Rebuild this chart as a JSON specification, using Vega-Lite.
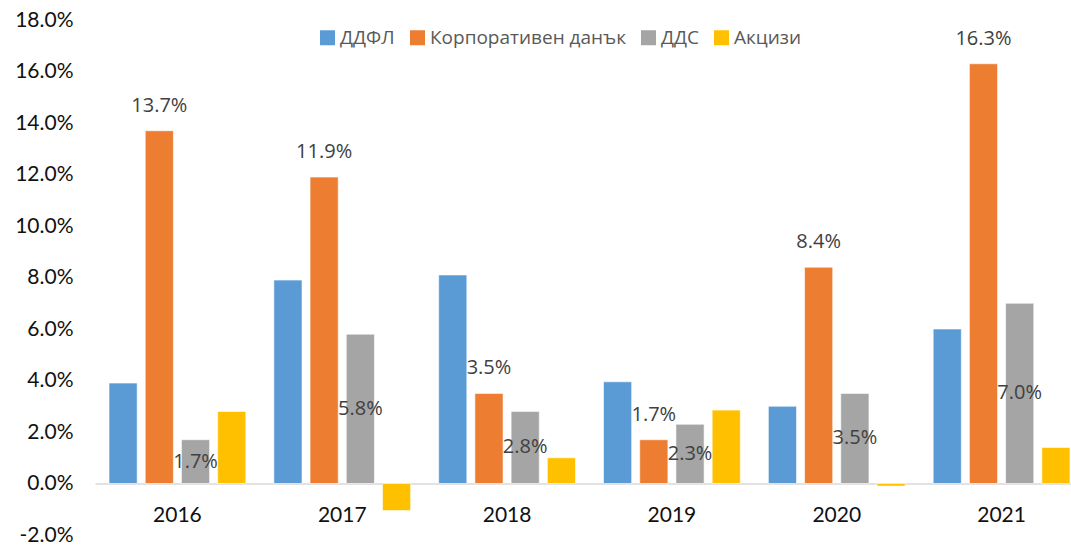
{
  "$schema": "https://vega.github.io/schema/vega-lite/v6.json",
  "width": 976,
  "height": 515,
  "autosize": {"type": "none"},
  "padding": {"left": 95, "top": 20, "right": 0, "bottom": 10},
  "background": "white",
  "config": {"view": {"stroke": null}},
  "data": {"values": [
    {"year": "2016", "s": "ДДФЛ", "v": 0.039},
    {"year": "2016", "s": "Корпоративен данък", "v": 0.137},
    {"year": "2016", "s": "ДДС", "v": 0.017},
    {"year": "2016", "s": "Акцизи", "v": 0.028},
    {"year": "2017", "s": "ДДФЛ", "v": 0.079},
    {"year": "2017", "s": "Корпоративен данък", "v": 0.119},
    {"year": "2017", "s": "ДДС", "v": 0.058},
    {"year": "2017", "s": "Акцизи", "v": -0.0105},
    {"year": "2018", "s": "ДДФЛ", "v": 0.081},
    {"year": "2018", "s": "Корпоративен данък", "v": 0.035},
    {"year": "2018", "s": "ДДС", "v": 0.028},
    {"year": "2018", "s": "Акцизи", "v": 0.010},
    {"year": "2019", "s": "ДДФЛ", "v": 0.0395},
    {"year": "2019", "s": "Корпоративен данък", "v": 0.017},
    {"year": "2019", "s": "ДДС", "v": 0.023},
    {"year": "2019", "s": "Акцизи", "v": 0.0285},
    {"year": "2020", "s": "ДДФЛ", "v": 0.030},
    {"year": "2020", "s": "Корпоративен данък", "v": 0.084},
    {"year": "2020", "s": "ДДС", "v": 0.035},
    {"year": "2020", "s": "Акцизи", "v": -0.001},
    {"year": "2021", "s": "ДДФЛ", "v": 0.060},
    {"year": "2021", "s": "Корпоративен данък", "v": 0.163},
    {"year": "2021", "s": "ДДС", "v": 0.070},
    {"year": "2021", "s": "Акцизи", "v": 0.014}
  ]},
  "encoding": {
    "x": {
      "field": "year", "type": "nominal",
      "scale": {"range": [0, 989], "paddingInner": 0.17, "paddingOuter": 0.085},
      "axis": {
        "title": null, "orient": "bottom", "offset": -51.5,
        "domainColor": "#d9d9d9", "domainWidth": 1.3, "ticks": false,
        "labelAngle": 0, "labelFont": "Lato", "labelFontSize": 21,
        "labelColor": "#111111", "labelPadding": 21
      }
    },
    "xOffset": {
      "field": "s", "type": "nominal",
      "scale": {"domain": ["ДДФЛ", "Корпоративен данък", "ДДС", "Акцизи"], "paddingInner": 0.222, "paddingOuter": 0}
    }
  },
  "layer": [
    {
      "mark": {"type": "bar", "stroke": "white", "strokeWidth": 0.6},
      "encoding": {
        "y": {
          "field": "v", "type": "quantitative",
          "scale": {"domain": [-0.02, 0.18], "nice": false, "zero": false},
          "axis": {
            "title": null, "values": [-0.02, 0, 0.02, 0.04, 0.06, 0.08, 0.1, 0.12, 0.14, 0.16, 0.18],
            "labelExpr": "replace(format(datum.value, '.1%'), '\u2212', '-')",
            "domain": false, "ticks": false, "grid": false,
            "labelFont": "Lato", "labelFontSize": 21, "labelColor": "#111111", "labelPadding": 22
          }
        },
        "color": {
          "field": "s", "type": "nominal",
          "scale": {"domain": ["ДДФЛ", "Корпоративен данък", "ДДС", "Акцизи"], "range": ["#5B9BD5", "#ED7D31", "#A5A5A5", "#FFC000"]},
          "legend": {
            "title": null, "orient": "none", "direction": "horizontal",
            "legendX": 223, "legendY": 8, "padding": 0,
            "symbolType": "square", "symbolSize": 225, "symbolStrokeWidth": 0,
            "labelFont": "Open Sans", "labelFontSize": 19, "labelColor": "#595959",
            "labelLimit": 400, "labelOffset": 3, "columnPadding": 13
          }
        }
      }
    },
    {
      "transform": [{"filter": "datum.s === 'Корпоративен данък'"}],
      "mark": {"type": "text", "font": "Open Sans", "fontSize": 20, "color": "#404040", "baseline": "middle", "dy": -25},
      "encoding": {
        "y": {"field": "v", "type": "quantitative"},
        "text": {"field": "v", "type": "quantitative", "format": ".1%"}
      }
    },
    {
      "transform": [{"filter": "datum.s === 'ДДС'"}, {"calculate": "datum.v / 2", "as": "mid"}],
      "mark": {"type": "text", "font": "Open Sans", "fontSize": 20, "color": "#404040", "baseline": "middle"},
      "encoding": {
        "y": {"field": "mid", "type": "quantitative"},
        "text": {"field": "v", "type": "quantitative", "format": ".1%"}
      }
    }
  ]
}
